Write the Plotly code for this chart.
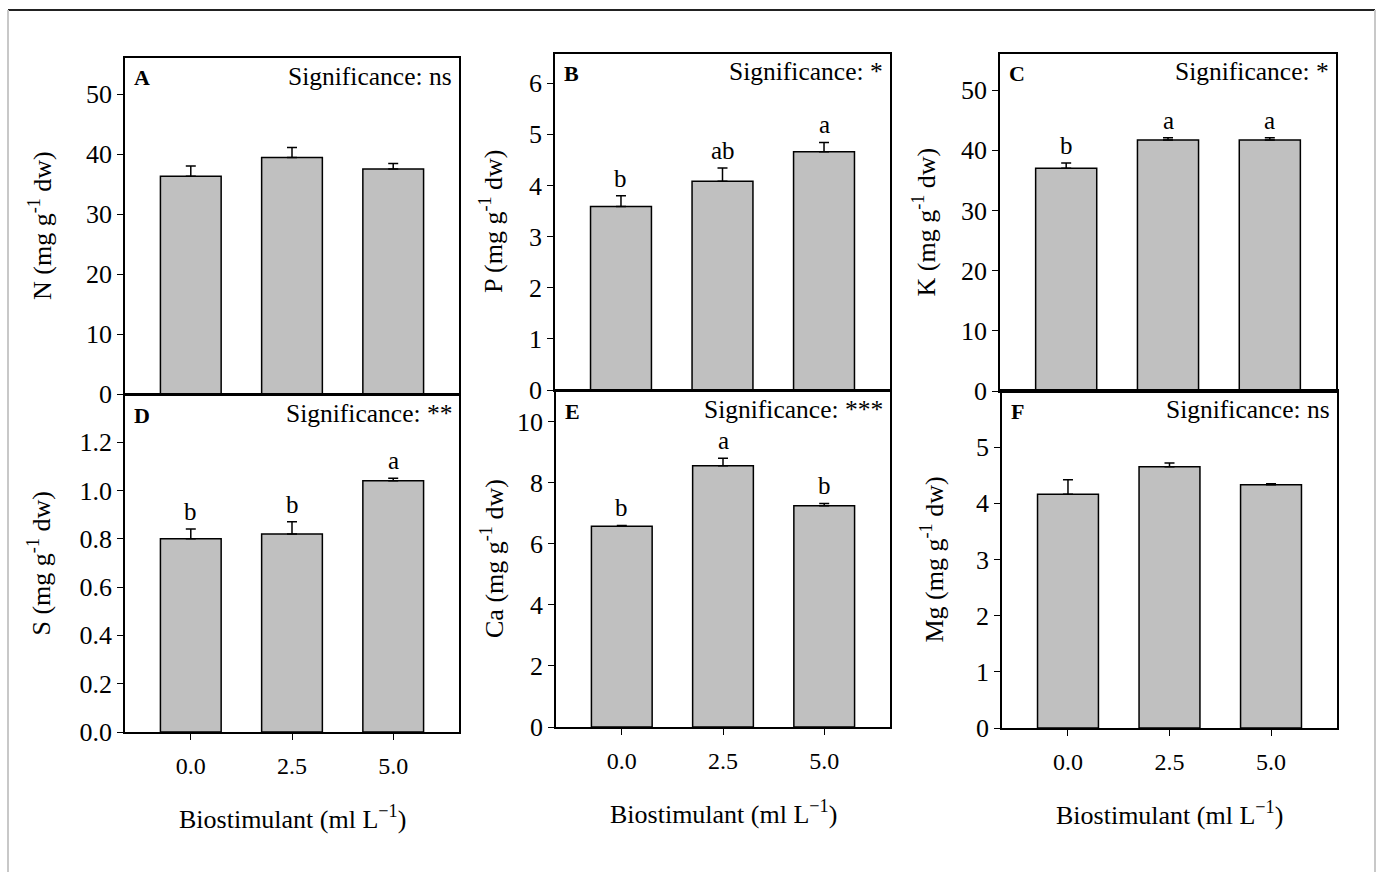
import plotly.graph_objects as go

W, H = 1378, 872

# ---------------- data ----------------
doses = ["0.0", "2.5", "5.0"]

N_vals = [36.3, 39.4, 37.5]
N_err = [1.7, 1.7, 0.9]
P_vals = [3.59, 4.08, 4.66]
P_err = [0.21, 0.26, 0.18]
K_vals = [37.0, 41.7, 41.7]
K_err = [0.9, 0.4, 0.4]
S_vals = [0.80, 0.82, 1.04]
S_err = [0.04, 0.05, 0.01]
Ca_vals = [6.57, 8.55, 7.24]
Ca_err = [0.03, 0.25, 0.08]
Mg_vals = [4.16, 4.65, 4.33]
Mg_err = [0.26, 0.07, 0.02]

P_letters = ["b", "ab", "a"]
K_letters = ["b", "a", "a"]
S_letters = ["b", "b", "a"]
Ca_letters = ["b", "a", "b"]

panel_ids = ["A", "B", "C", "D", "E", "F"]
nutrients = ["N", "P", "K", "S", "Ca", "Mg"]
significance = ["ns", "*", "*", "**", "***", "ns"]
x_title = "Biostimulant (ml L<sup>\u22121</sup>)"

N_ticks = [0, 10, 20, 30, 40, 50]
P_ticks = [0, 1, 2, 3, 4, 5, 6]
K_ticks = [0, 10, 20, 30, 40, 50]
S_ticks = [0.0, 0.2, 0.4, 0.6, 0.8, 1.0, 1.2]
Ca_ticks = [0, 2, 4, 6, 8, 10]
Mg_ticks = [0, 1, 2, 3, 4, 5]

values = [N_vals, P_vals, K_vals, S_vals, Ca_vals, Mg_vals]
errors = [N_err, P_err, K_err, S_err, Ca_err, Mg_err]
letters = [None, P_letters, K_letters, S_letters, Ca_letters, None]
y_ticks = [N_ticks, P_ticks, K_ticks, S_ticks, Ca_ticks, Mg_ticks]

# ---------------- layout geometry (pixels: left, top, right, bottom) ----------------
boxes = [(125, 58, 459, 394), (555, 54, 890, 390), (1000, 54, 1336, 391),
         (125, 395, 459, 732), (556, 391, 890, 727), (1002, 391, 1337, 728)]
y_ranges = [[0, 56], [0, 6.57], [0, 56], [0, 1.395], [0, 11], [0, 6]]
y_formats = ["d", "d", "d", ".1f", "d", "d"]
title_offsets = [84, 63, 75, 85, 64, 69]

FONT = "Liberation Serif"
BAR_COLOR = "#c0c0c0"

fig = go.Figure()
annotations = []
layout_axes = {}

for i in range(6):
    n = i + 1
    xa = "x" if n == 1 else f"x{n}"
    ya = "y" if n == 1 else f"y{n}"
    l, t, r, b = boxes[i]
    xdom = [l / W, r / W]
    ydom = [1 - b / H, 1 - t / H]
    bottom_row = i >= 3

    fig.add_trace(go.Bar(
        x=doses, y=values[i], xaxis=xa, yaxis=ya, width=0.6,
        marker=dict(color=BAR_COLOR, line=dict(color="black", width=1.5)),
        error_y=dict(type="data", array=errors[i], arrayminus=[0, 0, 0],
                     symmetric=False, color="black", thickness=1.5, width=5),
        showlegend=False, hoverinfo="skip",
    ))

    layout_axes[f"xaxis{'' if n == 1 else n}"] = dict(
        domain=xdom, anchor=ya, type="category", range=[-0.65, 2.65],
        showline=True, mirror=True, linecolor="black", linewidth=1.5,
        showgrid=False, zeroline=False, automargin=False,
        ticks="outside" if bottom_row else "", ticklen=6, tickwidth=1.2, tickcolor="black",
        showticklabels=bottom_row, ticklabelstandoff=5,
        tickfont=dict(family=FONT, size=24, color="black"),
    )
    layout_axes[f"yaxis{'' if n == 1 else n}"] = dict(
        domain=ydom, anchor=xa, range=y_ranges[i], tickvals=y_ticks[i],
        tickformat=y_formats[i], automargin=False,
        showline=True, mirror=True, linecolor="black", linewidth=1.5,
        showgrid=False, zeroline=False,
        ticks="outside", ticklen=6, tickwidth=1.2, tickcolor="black",
        tickfont=dict(family=FONT, size=26, color="black"),
    )

    # panel letter
    annotations.append(dict(
        xref="paper", yref="paper", x=(l + 7) / W, y=1 - (t + 20) / H,
        xanchor="left", yanchor="middle", showarrow=False,
        text=f"<b>{panel_ids[i]}</b>", font=dict(family=FONT, size=22, color="black")))
    # significance
    annotations.append(dict(
        xref="paper", yref="paper", x=(r - 5) / W, y=1 - (t + 18) / H,
        xanchor="right", yanchor="middle", showarrow=False,
        text=f"Significance: {significance[i]}", font=dict(family=FONT, size=25.5, color="black")))
    # y title
    annotations.append(dict(
        xref="paper", yref="paper", x=(l - title_offsets[i]) / W, y=1 - ((t + b) / 2) / H,
        xanchor="center", yanchor="middle", showarrow=False, textangle=-90,
        text=f"{nutrients[i]} (mg g<sup>-1</sup> dw)", font=dict(family=FONT, size=26, color="black")))
    # letters above bars
    if letters[i] is not None:
        for j, (v, e, lt) in enumerate(zip(values[i], errors[i], letters[i])):
            annotations.append(dict(
                xref=xa, yref=ya, x=j, y=v + e, xanchor="center", yanchor="bottom",
                yshift=2, showarrow=False, text=lt,
                font=dict(family=FONT, size=25, color="black")))
    # x title
    if bottom_row:
        annotations.append(dict(
            xref="paper", yref="paper", x=((l + r) / 2) / W, y=1 - (b + 85) / H,
            xanchor="center", yanchor="middle", showarrow=False,
            text=x_title, font=dict(family=FONT, size=26, color="black")))

shapes = [
    dict(type="line", xref="paper", yref="paper", x0=8 / W, x1=1375 / W, y0=1 - 10 / H, y1=1 - 10 / H,
         line=dict(color="#222222", width=2)),
    dict(type="line", xref="paper", yref="paper", x0=8 / W, x1=8 / W, y0=0, y1=1 - 10 / H,
         line=dict(color="#c8c8c8", width=2)),
    dict(type="line", xref="paper", yref="paper", x0=1375 / W, x1=1375 / W, y0=0, y1=1 - 10 / H,
         line=dict(color="#c8c8c8", width=2)),
]

fig.update_layout(
    width=W, height=H, autosize=False,
    margin=dict(l=0, r=0, t=0, b=0, pad=0, autoexpand=False),
    paper_bgcolor="white", plot_bgcolor="white",
    showlegend=False, bargap=0.4,
    annotations=annotations, shapes=shapes,
    font=dict(family=FONT, color="black"),
    **layout_axes,
)

fig.write_html("out.html", config={"displayModeBar": False},
               post_script="document.body.style.margin='0';document.body.style.overflow='hidden';")
